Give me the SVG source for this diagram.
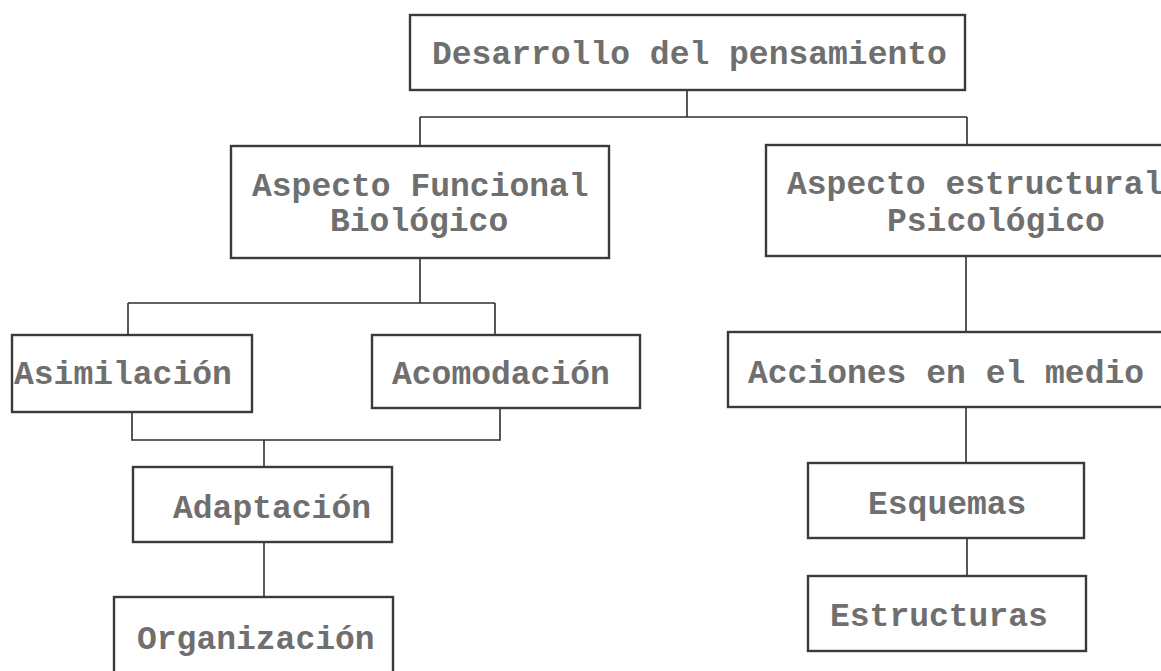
<svg xmlns="http://www.w3.org/2000/svg" width="1161" height="671" viewBox="0 0 1161 671">
<style>
.box{fill:#ffffff;stroke:#3a3a3a;stroke-width:2.4}
.lbl{font-family:"Liberation Mono","Courier New",monospace;font-weight:bold;font-size:33px;fill:#6f6f6f}
.con{fill:none;stroke:#2e2e2e;stroke-width:1.6}
</style>
<rect x="0" y="0" width="1161" height="671" fill="#ffffff"/>
<g id="connectors">
<path class="con" d="M687 90 V117"/>
<path class="con" d="M420 117 H967 M420 117 V146 M967 117 V145"/>
<path class="con" d="M420 258 V303 M128 303 H495 M128 303 V335 M495 303 V335"/>
<path class="con" d="M132 412 V440 H500 V408 M264 440 V467"/>
<path class="con" d="M264 542 V597"/>
<path class="con" d="M966 256 V332"/>
<path class="con" d="M966 407 V463"/>
<path class="con" d="M967 538 V576"/>
</g>
<g id="n-desarrollo">
<rect class="box" x="410" y="15" width="555" height="75"/>
<text class="lbl" x="432" y="64">Desarrollo del pensamiento</text>
</g>
<g id="n-funcional">
<rect class="box" x="231" y="146" width="378" height="112"/>
<text class="lbl" x="252" y="196">Aspecto Funcional</text>
<text class="lbl" x="330" y="231">Biológico</text>
</g>
<g id="n-estructural">
<rect class="box" x="766" y="145" width="410" height="111"/>
<text class="lbl" x="787" y="194">Aspecto estructural</text>
<text class="lbl" x="887" y="231">Psicológico</text>
</g>
<g id="n-asimilacion">
<rect class="box" x="12" y="335" width="240" height="77"/>
<text class="lbl" x="14" y="384">Asimilación</text>
</g>
<g id="n-acomodacion">
<rect class="box" x="372" y="335" width="268" height="73"/>
<text class="lbl" x="392" y="384">Acomodación</text>
</g>
<g id="n-acciones">
<rect class="box" x="728" y="332" width="448" height="75"/>
<text class="lbl" x="748" y="383">Acciones en el medio</text>
</g>
<g id="n-adaptacion">
<rect class="box" x="133" y="467" width="259" height="75"/>
<text class="lbl" x="173" y="518">Adaptación</text>
</g>
<g id="n-organizacion">
<rect class="box" x="114" y="597" width="279" height="90"/>
<text class="lbl" x="137" y="649">Organización</text>
</g>
<g id="n-esquemas">
<rect class="box" x="808" y="463" width="276" height="75"/>
<text class="lbl" x="868" y="514">Esquemas</text>
</g>
<g id="n-estructuras">
<rect class="box" x="808" y="576" width="278" height="75"/>
<text class="lbl" x="830" y="626">Estructuras</text>
</g>
</svg>
